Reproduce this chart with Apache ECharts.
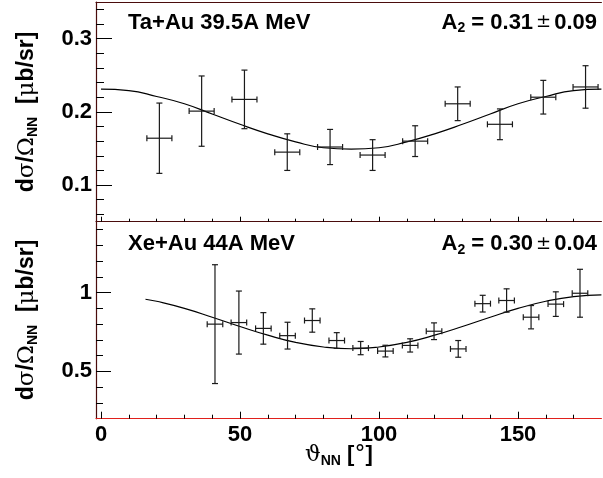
<!DOCTYPE html>
<html lang="en">

<head>
  <meta charset="UTF-8">
  <title>A2 fits</title>
  <script src="https://cdn.jsdelivr.net/npm/echarts@6/dist/echarts.min.js"></script>
  <style>
    html, body { margin: 0; padding: 0; background: #fff; }
    #chart { width: 603px; height: 478px; }
  </style>
</head>

<body>
  <div id="chart"></div>
</body>
<script>
  // tick values
  const xMajor = [0, 50, 100, 150]
  const xMinor = [10, 20, 30, 40, 60, 70, 80, 90, 110, 120, 130, 140, 160, 170]
  const yTopMajor = [0.1, 0.2, 0.3]
  const yTopMinor = [0.06, 0.08, 0.12, 0.14, 0.16, 0.18, 0.22, 0.24, 0.26, 0.28, 0.32, 0.34]
  const yBotMajor = [0.5, 1]
  const yBotMinor = [0.3, 0.4, 0.6, 0.7, 0.8, 0.9, 1.1, 1.2, 1.3, 1.4]

  // Ta+Au 39.5A MeV : angle, value, half x-width, half y-error
  const taAngle = [21.0, 36.2, 51.6, 67.0, 82.4, 97.7, 113.0, 128.3, 143.5, 159.1, 174.3]
  const taValue = [0.164, 0.201, 0.217, 0.145, 0.152, 0.141, 0.160, 0.211, 0.183, 0.220, 0.234]
  const taXerr = [4.5, 4.5, 4.5, 4.5, 4.5, 4.5, 4.5, 4.5, 4.5, 4.5, 4.5]
  const taYerr = [0.048, 0.048, 0.040, 0.025, 0.024, 0.021, 0.021, 0.023, 0.021, 0.023, 0.029]
  // fit curve
  const taFitAngle = [0, 10, 20, 30, 40, 50, 60, 70, 80, 90, 100, 110, 120, 130, 140, 150, 160, 170, 180]
  const taFitValue = [0.231, 0.229, 0.221, 0.211, 0.197, 0.183, 0.170, 0.159, 0.151, 0.149, 0.151, 0.159, 0.170, 0.183, 0.197, 0.211, 0.221, 0.229, 0.231]

  // Xe+Au 44A MeV
  const xeAngle = [41.0, 49.6, 58.4, 67.1, 76.0, 84.8, 93.4, 102.3, 111.2, 119.8, 128.5, 137.3, 145.9, 154.7, 163.6, 172.3]
  const xeValue = [0.80, 0.81, 0.773, 0.727, 0.823, 0.696, 0.648, 0.629, 0.665, 0.755, 0.643, 0.93, 0.95, 0.844, 0.927, 0.996]
  const xeXerr = [2.8, 2.8, 2.8, 2.8, 2.8, 2.8, 2.8, 2.8, 2.8, 2.8, 2.8, 2.8, 2.8, 2.8, 2.8, 2.8]
  const xeYerr = [0.377, 0.20, 0.10, 0.085, 0.074, 0.05, 0.042, 0.037, 0.042, 0.053, 0.053, 0.053, 0.074, 0.074, 0.078, 0.152]
  const xeFitAngle = [16, 20, 30, 40, 50, 60, 70, 80, 90, 100, 110, 120, 130, 140, 150, 160, 170, 180]
  const xeFitValue = [0.958, 0.945, 0.900, 0.844, 0.785, 0.730, 0.684, 0.655, 0.644, 0.655, 0.684, 0.730, 0.785, 0.844, 0.900, 0.945, 0.975, 0.986]

  const frameDark = '#4a0c0c'
  const frameRed = '#e0201c'
  const font = 'Liberation Sans, Arial, sans-serif'
  const sym = 'DejaVu Serif, Liberation Serif, serif'

  function zip(...cols) {
    return cols[0].map((_, i) => cols.map(c => c[i]))
  }

  function renderErr(params, api) {
    let x = api.value(0), y = api.value(1), xe = api.value(2), ye = api.value(3)
    let c = api.coord([x, y])
    let l = api.coord([x - xe, y]), r = api.coord([x + xe, y])
    let t = api.coord([x, y + ye]), b = api.coord([x, y - ye])
    let cap = 3
    let st = { stroke: '#1a1a1a', lineWidth: 1.2 }
    let seg = (x1, y1, x2, y2) => ({ type: 'line', shape: { x1, y1, x2, y2 }, style: st })
    return {
      type: 'group',
      children: [
        seg(l[0], c[1], r[0], c[1]),
        seg(c[0], t[1], c[0], b[1]),
        seg(l[0], c[1] - cap, l[0], c[1] + cap),
        seg(r[0], c[1] - cap, r[0], c[1] + cap),
        seg(c[0] - cap, t[1], c[0] + cap, t[1]),
        seg(c[0] - cap, b[1], c[0] + cap, b[1])
      ]
    }
  }

  function xAx(grid, ticks, len, opts) {
    return Object.assign({
      type: 'value', gridIndex: grid, min: -1.8, max: 180, position: 'bottom',
      axisLine: { show: false, onZero: false },
      axisTick: { show: true, inside: true, length: len, customValues: ticks, lineStyle: { color: '#000' } },
      axisLabel: { show: false },
      splitLine: { show: false }
    }, opts || {})
  }

  function yAx(grid, min, max, ticks, len, opts) {
    return Object.assign({
      type: 'value', gridIndex: grid, min: min, max: max, position: 'left',
      axisLine: { show: false, onZero: false },
      axisTick: { show: true, inside: true, length: len, customValues: ticks, lineStyle: { color: '#000' } },
      axisLabel: { show: false },
      splitLine: { show: false }
    }, opts || {})
  }

  let chart = echarts.init(document.getElementById('chart'))

  let option = {
    animation: false,
    backgroundColor: '#fff',
    grid: [
      { left: 96, top: 2, width: 505.4, height: 219.7 },
      { left: 96, top: 221.7, width: 505.4, height: 197 }
    ],
    xAxis: [
      xAx(0, xMinor, 3, { axisLine: { show: true, onZero: false, lineStyle: { color: frameDark, width: 1.2 } } }),
      xAx(0, xMajor, 5),
      xAx(1, xMinor, 4, { axisLine: { show: true, onZero: false, lineStyle: { color: frameRed, width: 1.2 } } }),
      xAx(1, xMajor, 7, {
        axisLabel: {
          show: true, customValues: xMajor, margin: 5,
          fontFamily: font, fontWeight: 'bold', fontSize: 22, color: '#000'
        }
      }),
      xAx(0, [], 0, { position: 'top', axisTick: { show: false }, axisLine: { show: true, onZero: false, lineStyle: { color: frameDark, width: 1.2 } } })
    ],
    yAxis: [
      yAx(0, 0.05, 0.35, yTopMinor, 8, { axisLine: { show: true, onZero: false, lineStyle: { color: frameDark, width: 1.2 } } }),
      yAx(0, 0.05, 0.35, yTopMajor, 16, {
        axisLabel: {
          show: true, customValues: yTopMajor, margin: 4, formatter: v => v.toFixed(1),
          fontFamily: font, fontWeight: 'bold', fontSize: 22, color: '#000'
        }
      }),
      yAx(1, 0.2, 1.45, yBotMinor, 7, { axisLine: { show: true, onZero: false, lineStyle: { color: frameDark, width: 1.2 } } }),
      yAx(1, 0.2, 1.45, yBotMajor, 15, {
        axisLabel: {
          show: true, customValues: yBotMajor, margin: 4,
          fontFamily: font, fontWeight: 'bold', fontSize: 22, color: '#000'
        }
      })
    ],
    series: [
      {
        type: 'line', xAxisIndex: 0, yAxisIndex: 0, data: zip(taFitAngle, taFitValue),
        smooth: true, showSymbol: false, lineStyle: { color: '#000', width: 1.2 }, z: 3
      },
      {
        type: 'custom', xAxisIndex: 0, yAxisIndex: 0, renderItem: renderErr,
        data: zip(taAngle, taValue, taXerr, taYerr), encode: { x: 0, y: 1 }, z: 4
      },
      {
        type: 'line', xAxisIndex: 2, yAxisIndex: 2, data: zip(xeFitAngle, xeFitValue),
        smooth: true, showSymbol: false, lineStyle: { color: '#000', width: 1.2 }, z: 3
      },
      {
        type: 'custom', xAxisIndex: 2, yAxisIndex: 2, renderItem: renderErr,
        data: zip(xeAngle, xeValue, xeXerr, xeYerr), encode: { x: 0, y: 1 }, z: 4
      }
    ]
  }

  function richSet(size) {
    return {
      m: { fontFamily: font, fontWeight: 'bold', fontSize: size, lineHeight: 26, verticalAlign: 'middle', color: '#000' },
      g: { fontFamily: sym, fontWeight: 'normal', fontSize: size, lineHeight: 26, verticalAlign: 'middle', color: '#000' },
      pm: { fontFamily: sym, fontWeight: 'normal', fontSize: 18, lineHeight: 26, verticalAlign: 'middle', color: '#000', padding: [0, 3, 0, 3] },
      s: { fontFamily: font, fontWeight: 'bold', fontSize: 14, lineHeight: 12, verticalAlign: 'bottom', color: '#000' }
    }
  }

  function label(text, x, y, align, size, rot) {
    return {
      type: 'text', x: x, y: y, rotation: rot || 0,
      style: { text: text, x: 0, y: 0, align: align, verticalAlign: 'middle', rich: richSet(size) }
    }
  }

  option.graphic = [
    label('{m|Ta+Au 39.5A MeV}', 128, 22.5, 'left', 22),
    label('{m|A}{s|2}{m| = 0.31}{pm|±}{m|0.09}', 597, 22.5, 'right', 22),
    label('{m|Xe+Au 44A MeV}', 128, 244, 'left', 22),
    label('{m|A}{s|2}{m| = 0.30}{pm|±}{m|0.04}', 597, 244, 'right', 22),
    label('{m|d}{g|σ}{m|/}{g|Ω}{s|NN}{m|  [}{g|μ}{m|b/sr]}', 27, 112, 'center', 23, Math.PI / 2),
    label('{m|d}{g|σ}{m|/}{g|Ω}{s|NN}{m|  [}{g|μ}{m|b/sr]}', 27, 320, 'center', 23, Math.PI / 2),
    label('{g|ϑ}{s|NN}{m| [}{g|°}{m|]}', 305, 455, 'left', 22)
  ]

  chart.setOption(option)
</script>

</html>
